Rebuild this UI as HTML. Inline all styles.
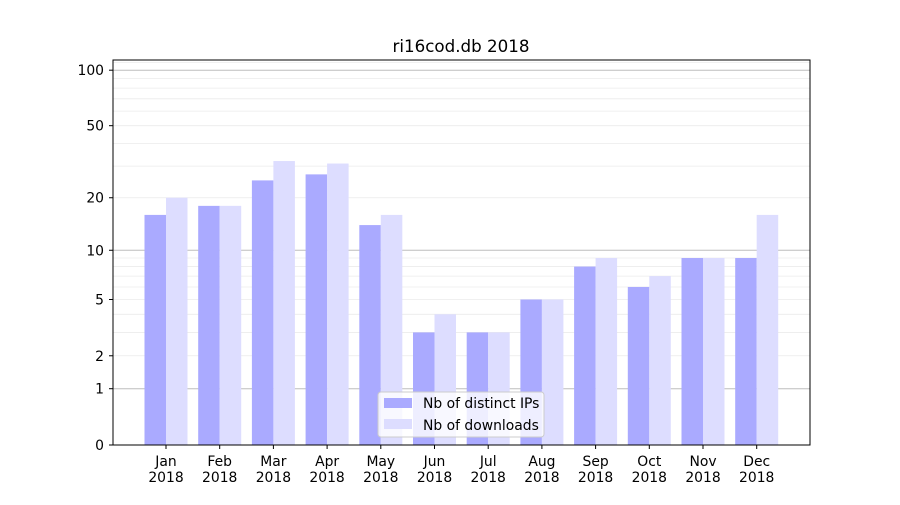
<!DOCTYPE html>
<html><head><meta charset="utf-8"><style>body{margin:0;background:#fff}svg{font-family:"DejaVu Sans","Liberation Sans",sans-serif}</style></head>
<body>
<svg width="900" height="500" xmlns="http://www.w3.org/2000/svg">
<rect width="900" height="500" fill="#fff"/>
<g id="grid"></g>
<g id="bars"></g>
<rect x="113" y="60" width="697" height="385" fill="none" stroke="#000" stroke-width="1"/>
<g id="ticks" font-size="13.9"></g>
<text x="461" y="52" font-size="16.7" text-anchor="middle">ri16cod.db 2018</text>
<g>
<rect x="378" y="392" width="166" height="45" rx="3" fill="#fff" fill-opacity="0.8" stroke="#ccc"/>
<rect x="384" y="398" width="28" height="10" fill="#aaaaff"/>
<text x="423" y="408" font-size="13.9">Nb of distinct IPs</text>
<rect x="384" y="419" width="28" height="10" fill="#ddddff"/>
<text x="423" y="430" font-size="13.9">Nb of downloads</text>
</g>
<script>
const NS="http://www.w3.org/2000/svg";
function Y(v){return 445-187*Math.log10(1+v);}
function el(p,t,a,txt){const e=document.createElementNS(NS,t);for(const k in a)e.setAttribute(k,a[k]);if(txt!==undefined)e.textContent=txt;document.getElementById(p).appendChild(e);}
const minor=[2,3,4,5,6,7,8,9,20,30,40,50,60,70,80,90,110];
minor.forEach(v=>el("grid","line",{x1:113,x2:810,y1:Y(v),y2:Y(v),stroke:"#ebebeb","stroke-width":0.8}));
[1,10,100].forEach(v=>el("grid","line",{x1:113,x2:810,y1:Y(v),y2:Y(v),stroke:"#bdbdbd","stroke-width":1}));
const ips=[16,18,25,27,14,3,3,5,8,6,9,9], dl=[20,18,32,31,16,4,3,5,9,7,9,16];
const m=["Jan","Feb","Mar","Apr","May","Jun","Jul","Aug","Sep","Oct","Nov","Dec"];
for(let i=0;i<12;i++){
 const c=166+i*53.7;
 el("bars","rect",{x:c-21.5,y:Y(ips[i]),width:21.5,height:445-Y(ips[i]),fill:"#aaaaff"});
 el("bars","rect",{x:c,y:Y(dl[i]),width:21.5,height:445-Y(dl[i]),fill:"#ddddff"});
 el("ticks","line",{x1:c,x2:c,y1:445,y2:449,stroke:"#000"});
 el("ticks","text",{x:c,y:466,"text-anchor":"middle"},m[i]);
 el("ticks","text",{x:c,y:482,"text-anchor":"middle"},"2018");
}
[0,1,2,5,10,20,50,100].forEach(v=>{const y=Y(v);
 el("ticks","line",{x1:109,x2:113,y1:y,y2:y,stroke:"#000"});
 el("ticks","text",{x:104,y:y+5,"text-anchor":"end"},String(v));});
</script>
</svg>
</body></html>
